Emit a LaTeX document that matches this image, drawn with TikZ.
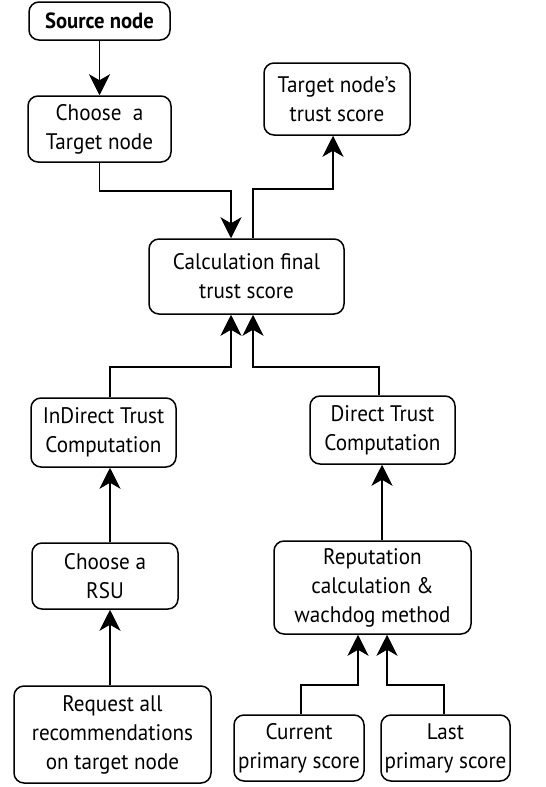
\documentclass[tikz,border=0pt]{standalone}
\usepackage{fontspec}
\setmainfont{PT Sans}[FakeStretch=0.94]
\usetikzlibrary{arrows.meta}
\begin{document}
\begin{tikzpicture}[x=1pt,y=-1pt,
  box/.style={draw,line width=1.5pt,rounded corners=10pt,align=center,inner sep=0pt,
    font=\fontsize{22.5}{29}\selectfont},
  arr/.style={line width=1.8pt,-{Stealth[length=21pt,width=21pt,inset=6pt]}}]
\useasboundingbox (0,0) rectangle (546,787);
\node[box,minimum width=141pt,minimum height=38pt,font=\fontsize{22}{29}\selectfont\bfseries] (src) at (99.5,21) {Source node};
\node[box,minimum width=143pt,minimum height=66pt] (choose) at (99.5,129) {Choose~~a\\Target node};
\node[box,minimum width=146pt,minimum height=72pt] (tscore) at (337,99) {Target node’s\\trust score};
\node[box,minimum width=195pt,minimum height=75pt] (calc) at (246.5,276.5) {Calculation final\\trust score};
\node[box,minimum width=145pt,minimum height=69pt] (indirect) at (103.5,432.5) {InDirect Trust\\Computation};
\node[box,minimum width=145pt,minimum height=68pt] (direct) at (382.5,430) {Direct Trust\\Computation};
\node[box,minimum width=146pt,minimum height=66pt] (rsu) at (105,576) {Choose a\\RSU};
\node[box,minimum width=197pt,minimum height=97pt] (request) at (112.5,734.5) {Request all\\recommendations\\on target node};
\node[box,minimum width=197pt,minimum height=93pt] (rep) at (372.5,587.5) {Reputation\\calculation \&\\wachdog method};
\node[box,minimum width=130pt,minimum height=66pt] (cur) at (299,748) {Current\\primary score};
\node[box,minimum width=129pt,minimum height=66pt] (last) at (445.5,748) {Last\\primary score};

\draw[arr] (src) -- (choose);
\draw[arr] (choose.south) -- ++(0,28) -| ([xshift=-15.5pt]calc.north);
\draw[arr] ([xshift=6.5pt]calc.north) -- ++(0,-49) -| ([xshift=-4pt]tscore.south);
\draw[arr] ([xshift=6.5pt]indirect.north) -- ++(0,-30) -| ([xshift=-15.5pt]calc.south);
\draw[arr] ([xshift=-3.5pt]direct.north) -- ++(0,-28) -| ([xshift=6.5pt]calc.south);
\draw[arr] ([xshift=5pt]rsu.north) -- ([xshift=5pt]rsu.north |- indirect.south);
\draw[arr] ([xshift=-2.5pt]request.north) -- ([xshift=-2.5pt]request.north |- rsu.south);
\draw[arr] ([xshift=9.5pt]rep.north) -- ([xshift=9.5pt]rep.north |- direct.south);
\draw[arr] ([xshift=2pt]cur.north) -- ++(0,-29) -| ([xshift=-14.5pt]rep.south);
\draw[arr] ([xshift=-1.5pt]last.north) -- ++(0,-29) -| ([xshift=14.5pt]rep.south);
\end{tikzpicture}
\end{document}
